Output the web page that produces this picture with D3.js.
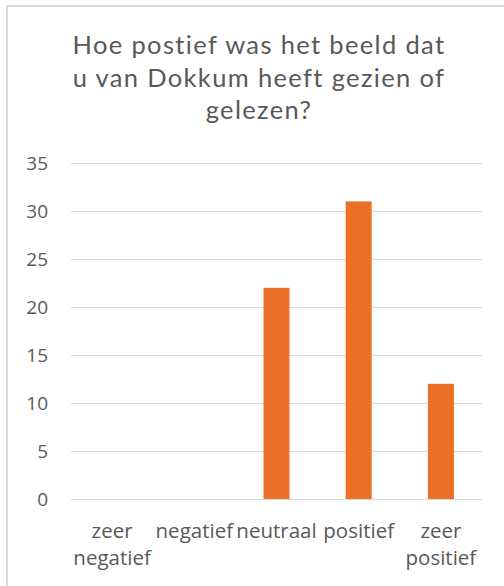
<!DOCTYPE html>
<html>
<head>
<meta charset="utf-8">
<script src="https://cdn.jsdelivr.net/npm/d3@7"></script>
<style>
  html, body { margin: 0; padding: 0; background: #fff; }
  svg { display: block; }
</style>
</head>
<body>
<svg id="chart" width="504" height="586"></svg>
<script>
const categories = [["zeer", "negatief"], ["negatief"], ["neutraal"], ["positief"], ["zeer", "positief"]];
const values = [0, 0, 22, 31, 12];
const yTicks = [0, 5, 10, 15, 20, 25, 30, 35];
const titleLines = ["Hoe postief was het beeld dat", "u van Dokkum heeft gezien of", "gelezen?"];

const svg = d3.select("#chart");
const W = 504, H = 586;
const margin = { left: 71, right: 22, top: 163, bottom: 87 };
const textColor = "#595959";
const gridColor = "#d9d9d9";
const barColor = "#EC6F26";

svg.append("rect").attr("width", W).attr("height", H).attr("fill", "#fff");

// chart-area border (only left and top visible)
svg.append("path")
  .attr("d", `M7,${H} V6 H${W}`)
  .attr("fill", "none").attr("stroke", gridColor).attr("stroke-width", 2);

const x = d3.scaleBand()
  .domain(d3.range(categories.length))
  .range([margin.left, W - margin.right])
  .paddingInner(0.684).paddingOuter(0.342);

const y = d3.scaleLinear().domain([0, 35]).range([H - margin.bottom, margin.top]);

// title
const title = svg.append("text")
  .attr("text-anchor", "middle")
  .attr("font-family", "Lato, 'Open Sans', sans-serif")
  .attr("font-size", 25.5)
  .attr("letter-spacing", 1.35)
  .attr("fill", textColor);
titleLines.forEach((t, i) => {
  title.append("tspan").attr("x", 259).attr("y", 54 + i * 32.5).text(t);
});

// gridlines + y labels
const yAxis = d3.axisLeft(y).tickValues(yTicks)
  .tickSize(-(W - margin.right - margin.left)).tickPadding(23);
const gy = svg.append("g").attr("transform", `translate(${margin.left},0)`).call(yAxis);
gy.select(".domain").remove();
gy.selectAll(".tick line").attr("stroke", gridColor).attr("stroke-width", 1);
gy.selectAll(".tick text")
  .attr("fill", textColor)
  .attr("font-family", "'Open Sans', sans-serif")
  .attr("font-size", 19);

// bars
svg.append("g").selectAll("rect")
  .data(values)
  .join("rect")
  .attr("x", (d, i) => x(i))
  .attr("width", x.bandwidth())
  .attr("y", d => y(d))
  .attr("height", d => y(0) - y(d))
  .attr("fill", barColor);

// x labels
const xl = svg.append("g");
categories.forEach((lines, i) => {
  const t = xl.append("text")
    .attr("text-anchor", "middle")
    .attr("font-family", "'Open Sans', sans-serif")
    .attr("font-size", 20.5)
    .attr("fill", textColor);
  lines.forEach((ln, j) => {
    t.append("tspan").attr("x", x(i) + x.bandwidth() / 2).attr("y", 538 + j * 27).text(ln);
  });
});
</script>
</body>
</html>
